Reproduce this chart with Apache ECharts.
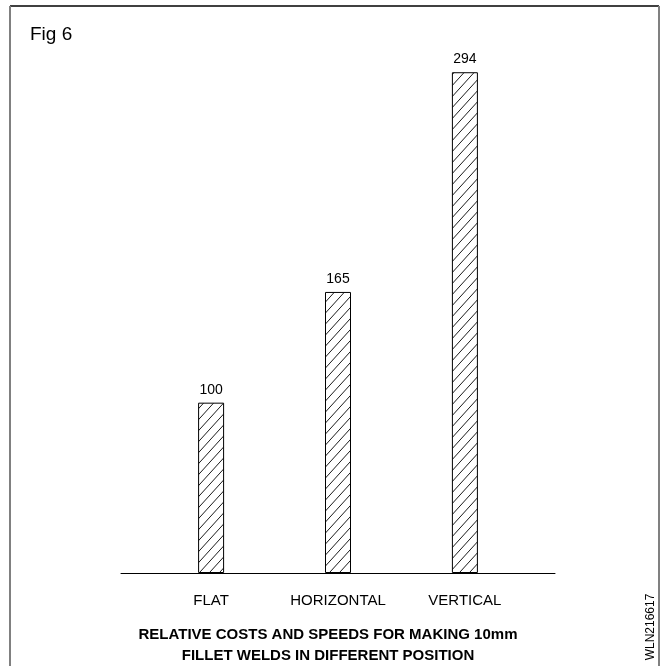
<!DOCTYPE html>
<html>
<head>
<meta charset="utf-8">
<script src="https://cdn.jsdelivr.net/npm/echarts@6/dist/echarts.min.js"></script>
<style>
html,body{margin:0;padding:0;background:#fff;}
#c{width:666px;height:666px;}
</style>
</head>
<body>
<div id="c"></div>
<script>
var categories = ['FLAT', 'HORIZONTAL', 'VERTICAL'];
var values = [100, 165, 294];
var figLabel = 'Fig 6';
var caption = 'RELATIVE COSTS AND SPEEDS FOR MAKING 10mm\nFILLET WELDS IN DIFFERENT POSITION';
var codeLabel = 'WLN216617';

function hatch() {
  var w = 10, h = 11;
  var c = document.createElement('canvas');
  c.width = w; c.height = h;
  var ctx = c.getContext('2d');
  ctx.fillStyle = '#fff';
  ctx.fillRect(0, 0, w, h);
  ctx.strokeStyle = '#000';
  ctx.lineWidth = 0.9;
  ctx.beginPath();
  ctx.moveTo(-w, 2 * h); ctx.lineTo(2 * w, -h);
  ctx.moveTo(-2 * w, 2 * h); ctx.lineTo(w, -h);
  ctx.moveTo(0, 2 * h); ctx.lineTo(3 * w, -h);
  ctx.stroke();
  return c;
}

var chart = echarts.init(document.getElementById('c'), null, {renderer: 'canvas'});
var data = values.map(function (v, i) { return [i + 1, v]; });
var font = 'Liberation Sans, Arial, sans-serif';

chart.setOption({
  backgroundColor: '#fff',
  animation: false,
  grid: {left: 121, right: 111, top: 62, bottom: 93, containLabel: false},
  xAxis: {
    type: 'value', min: 0.29, max: 3.71,
    splitLine: {show: false},
    axisTick: {show: false},
    axisLine: {show: true, onZero: false, lineStyle: {color: '#000', width: 1}},
    axisLabel: {
      customValues: [1, 2, 3],
      showMinLabel: true, showMaxLabel: true, hideOverlap: false,
      margin: 20,
      color: '#000', fontSize: 15, fontFamily: font,
      formatter: function (v) { return categories[Math.round(v) - 1] || ''; }
    }
  },
  yAxis: {type: 'value', min: 0, max: 300, show: false, splitLine: {show: false}},
  title: [
    {text: figLabel, left: 30, top: 25, padding: 0, textStyle: {fontSize: 19, fontWeight: 'normal', color: '#000', fontFamily: font}},
    {text: caption, left: 328, top: 624, padding: 0, textAlign: 'center',
     textStyle: {fontSize: 15, fontWeight: 'bold', color: '#000', lineHeight: 21, fontFamily: font}}
  ],
  graphic: [
    {type: 'line', shape: {x1: 10, y1: 6, x2: 659, y2: 6}, style: {stroke: '#000', lineWidth: 1.5}},
    {type: 'line', shape: {x1: 10, y1: 6, x2: 10, y2: 666}, style: {stroke: '#808080', lineWidth: 2}},
    {type: 'line', shape: {x1: 659, y1: 6, x2: 659, y2: 666}, style: {stroke: '#808080', lineWidth: 2}},
    {type: 'text', x: 651, y: 627, rotation: Math.PI / 2,
     style: {text: codeLabel, fontSize: 12, fill: '#000', align: 'center', verticalAlign: 'middle', fontFamily: font}}
  ],
  series: [{
    type: 'bar',
    data: data,
    barWidth: 26,
    itemStyle: {color: {image: hatch(), repeat: 'repeat'}, borderColor: '#000', borderWidth: 1},
    label: {show: true, position: 'top', distance: 6, color: '#000', fontSize: 14, fontFamily: font}
  }]
});
</script>
</body>
</html>
